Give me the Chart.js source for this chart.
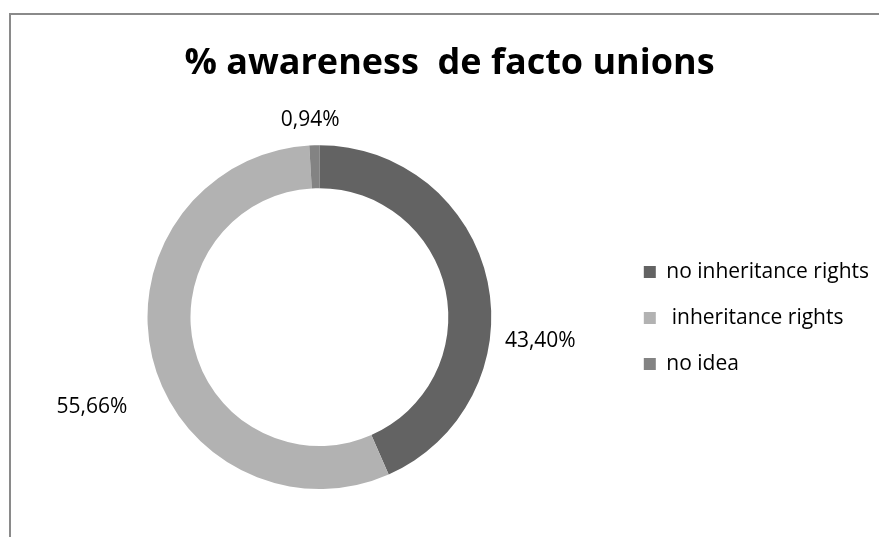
<!DOCTYPE html>
<html>
<head>
<meta charset="utf-8">
<script src="https://cdn.jsdelivr.net/npm/chart.js@4.4.1/dist/chart.umd.min.js"></script>
<style>
  html, body { margin: 0; padding: 0; background: #fff; }
  #wrap { position: relative; width: 879px; height: 537px; }
  #frame { position: absolute; left: 9px; top: 13px; right: -5px; bottom: -5px; border: 2px solid #8a8a8a; }
  canvas { position: absolute; left: 0; top: 0; }
</style>
</head>
<body>
<div id="wrap">
  <div id="frame"></div>
  <canvas id="pie" width="879" height="537"></canvas>
</div>
<script>
// chart data
const title = '% awareness  de facto unions';
const labels = ['no inheritance rights', ' inheritance rights', 'no idea'];
const values = [43.40, 55.66, 0.94];
const valueLabels = ['43,40%', '55,66%', '0,94%'];
const colors = ['#636363', '#b2b2b2', '#838383'];

// percentage labels outside the ring (hand-placed in the original, so nudged a bit)
const outsideLabels = {
  id: 'outsideLabels',
  afterDatasetsDraw(chart, args, opts) {
    const ctx = chart.ctx;
    const meta = chart.getDatasetMeta(0);
    ctx.save();
    ctx.font = '21px "Open Sans"';
    ctx.fillStyle = '#000';
    ctx.textAlign = 'center';
    ctx.textBaseline = 'middle';
    meta.data.forEach(function(arc, i) {
      const n = opts.nudge[i] || { da: 0, dr: 0 };
      const mid = (arc.startAngle + arc.endAngle) / 2 + n.da * Math.PI / 180;
      const w = ctx.measureText(valueLabels[i]).width;
      const r = arc.outerRadius + 14 + Math.abs(Math.cos(mid)) * w / 2 + Math.abs(Math.sin(mid)) * 10 + n.dr;
      ctx.fillText(valueLabels[i], arc.x + Math.cos(mid) * r, arc.y + Math.sin(mid) * r);
    });
    ctx.restore();
  }
};

new Chart(document.getElementById('pie'), {
  type: 'doughnut',
  data: {
    labels: labels,
    datasets: [{
      data: values,
      backgroundColor: colors,
      borderWidth: 0
    }]
  },
  options: {
    responsive: false,
    animation: false,
    cutout: '75%',
    layout: { padding: { left: 20, right: 0, top: 13, bottom: 48 } },
    plugins: {
      title: {
        display: true,
        text: title,
        color: '#000',
        font: { family: '"Open Sans"', size: 36, weight: 'bold' },
        padding: { top: 29, bottom: 60 }
      },
      legend: {
        position: 'right',
        title: { display: true, text: '', font: { size: 1 }, padding: { top: 133, bottom: 0 } },
        labels: {
          color: '#000',
          font: { family: '"Open Sans"', size: 21, lineHeight: 1 },
          boxWidth: 12,
          boxHeight: 12,
          padding: 25
        }
      },
      tooltip: { enabled: false },
      outsideLabels: {
        nudge: [{ da: 18, dr: 0 }, { da: -8, dr: 22 }, { da: -1, dr: 0 }]
      }
    }
  },
  plugins: [outsideLabels]
});
</script>
</body>
</html>
